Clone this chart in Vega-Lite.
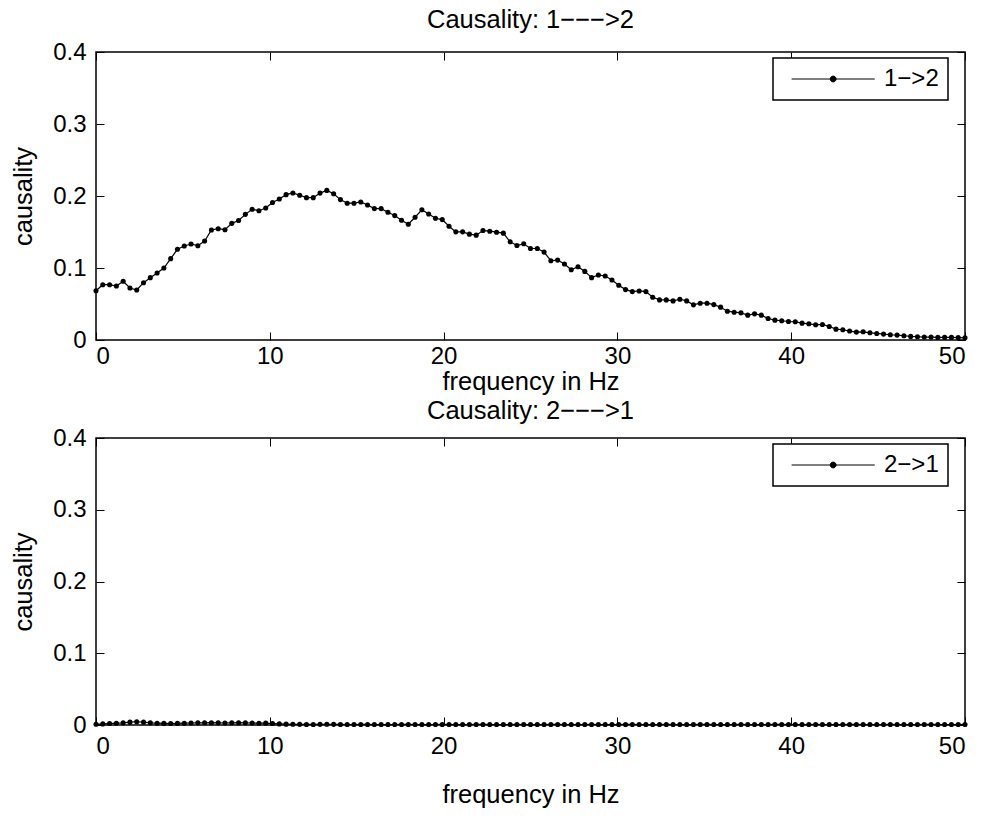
{
  "$schema": "https://vega.github.io/schema/vega-lite/v6.json",
  "background": "white",
  "padding": {"left": 10, "top": 6, "right": 10, "bottom": 5},
  "datasets": {
    "a": [
      {"f":0,"c":0.0685},{"f":0.3906,"c":0.0768},{"f":0.7813,"c":0.0768},{"f":1.1719,"c":0.075},{"f":1.5625,"c":0.0815},{"f":1.9531,"c":0.0722},{"f":2.3438,"c":0.0694},{"f":2.7344,"c":0.0796},{"f":3.125,"c":0.0866},{"f":3.5156,"c":0.093},{"f":3.9063,"c":0.1},{"f":4.2969,"c":0.113},{"f":4.6875,"c":0.126},{"f":5.0781,"c":0.1306},{"f":5.4688,"c":0.1333},{"f":5.8594,"c":0.131},{"f":6.25,"c":0.1375},{"f":6.6406,"c":0.1528},{"f":7.0313,"c":0.1546},{"f":7.4219,"c":0.1532},{"f":7.8125,"c":0.162},{"f":8.2031,"c":0.166},{"f":8.5938,"c":0.1745},{"f":8.9844,"c":0.1815},{"f":9.375,"c":0.1796},{"f":9.7656,"c":0.1833},{"f":10.1563,"c":0.191},{"f":10.5469,"c":0.1958},{"f":10.9375,"c":0.2019},{"f":11.3281,"c":0.2042},{"f":11.7188,"c":0.201},{"f":12.1094,"c":0.1977},{"f":12.5,"c":0.1977},{"f":12.8906,"c":0.204},{"f":13.2813,"c":0.2078},{"f":13.6719,"c":0.2032},{"f":14.0625,"c":0.195},{"f":14.4531,"c":0.19},{"f":14.8438,"c":0.19},{"f":15.2344,"c":0.1917},{"f":15.625,"c":0.1876},{"f":16.0156,"c":0.1825},{"f":16.4063,"c":0.1825},{"f":16.7969,"c":0.1775},{"f":17.1875,"c":0.1728},{"f":17.5781,"c":0.1664},{"f":17.9688,"c":0.1608},{"f":18.3594,"c":0.1705},{"f":18.75,"c":0.181},{"f":19.1406,"c":0.1751},{"f":19.5313,"c":0.1691},{"f":19.9219,"c":0.1672},{"f":20.3125,"c":0.158},{"f":20.7031,"c":0.1502},{"f":21.0938,"c":0.1502},{"f":21.4844,"c":0.147},{"f":21.875,"c":0.1456},{"f":22.2656,"c":0.152},{"f":22.6563,"c":0.1511},{"f":23.0469,"c":0.1497},{"f":23.4375,"c":0.1484},{"f":23.8281,"c":0.1364},{"f":24.2188,"c":0.1313},{"f":24.6094,"c":0.1336},{"f":25,"c":0.1271},{"f":25.3906,"c":0.1271},{"f":25.7813,"c":0.1221},{"f":26.1719,"c":0.1101},{"f":26.5625,"c":0.111},{"f":26.9531,"c":0.1055},{"f":27.3438,"c":0.0976},{"f":27.7344,"c":0.1018},{"f":28.125,"c":0.0953},{"f":28.5156,"c":0.0866},{"f":28.9063,"c":0.0903},{"f":29.2969,"c":0.0889},{"f":29.6875,"c":0.0834},{"f":30.0781,"c":0.076},{"f":30.4688,"c":0.07},{"f":30.8594,"c":0.0672},{"f":31.25,"c":0.0681},{"f":31.6406,"c":0.0672},{"f":32.0313,"c":0.0594},{"f":32.4219,"c":0.0557},{"f":32.8125,"c":0.0557},{"f":33.2031,"c":0.0543},{"f":33.5938,"c":0.0566},{"f":33.9844,"c":0.0543},{"f":34.375,"c":0.0488},{"f":34.7656,"c":0.0511},{"f":35.1563,"c":0.0511},{"f":35.5469,"c":0.0492},{"f":35.9375,"c":0.0456},{"f":36.3281,"c":0.04},{"f":36.7188,"c":0.0386},{"f":37.1094,"c":0.0377},{"f":37.5,"c":0.0345},{"f":37.8906,"c":0.0363},{"f":38.2813,"c":0.0345},{"f":38.6719,"c":0.0299},{"f":39.0625,"c":0.0276},{"f":39.4531,"c":0.0267},{"f":39.8438,"c":0.0257},{"f":40.2344,"c":0.0253},{"f":40.625,"c":0.0234},{"f":41.0156,"c":0.0225},{"f":41.4063,"c":0.0211},{"f":41.7969,"c":0.0216},{"f":42.1875,"c":0.0188},{"f":42.5781,"c":0.0151},{"f":42.9688,"c":0.0142},{"f":43.3594,"c":0.0124},{"f":43.75,"c":0.011},{"f":44.1406,"c":0.0114},{"f":44.5313,"c":0.01},{"f":44.9219,"c":0.0091},{"f":45.3125,"c":0.0082},{"f":45.7031,"c":0.0073},{"f":46.0938,"c":0.0068},{"f":46.4844,"c":0.0059},{"f":46.875,"c":0.005},{"f":47.2656,"c":0.0045},{"f":47.6563,"c":0.0041},{"f":48.0469,"c":0.0041},{"f":48.4375,"c":0.0036},{"f":48.8281,"c":0.0036},{"f":49.2188,"c":0.0036},{"f":49.6094,"c":0.0034},{"f":50,"c":0.003}
    ],
    "b": [
      {"f":0,"c":0.001},{"f":0.3906,"c":0.0015},{"f":0.7813,"c":0.002},{"f":1.1719,"c":0.0025},{"f":1.5625,"c":0.003},{"f":1.9531,"c":0.004},{"f":2.3438,"c":0.0045},{"f":2.7344,"c":0.004},{"f":3.125,"c":0.003},{"f":3.5156,"c":0.0025},{"f":3.9063,"c":0.0022},{"f":4.2969,"c":0.002},{"f":4.6875,"c":0.0022},{"f":5.0781,"c":0.0025},{"f":5.4688,"c":0.0028},{"f":5.8594,"c":0.003},{"f":6.25,"c":0.003},{"f":6.6406,"c":0.0032},{"f":7.0313,"c":0.003},{"f":7.4219,"c":0.0028},{"f":7.8125,"c":0.003},{"f":8.2031,"c":0.0032},{"f":8.5938,"c":0.003},{"f":8.9844,"c":0.0028},{"f":9.375,"c":0.0025},{"f":9.7656,"c":0.0026},{"f":10.1563,"c":0.002},{"f":10.5469,"c":0.0015},{"f":10.9375,"c":0.0012},{"f":11.3281,"c":0.001},{"f":11.7188,"c":0.0009},{"f":12.1094,"c":0.0008},{"f":12.5,"c":0.0008},{"f":12.8906,"c":0.0009},{"f":13.2813,"c":0.001},{"f":13.6719,"c":0.0009},{"f":14.0625,"c":0.0008},{"f":14.4531,"c":0.0007},{"f":14.8438,"c":0.0007},{"f":15.2344,"c":0.0008},{"f":15.625,"c":0.0008},{"f":16.0156,"c":0.0007},{"f":16.4063,"c":0.0006},{"f":16.7969,"c":0.0006},{"f":17.1875,"c":0.0007},{"f":17.5781,"c":0.0008},{"f":17.9688,"c":0.0008},{"f":18.3594,"c":0.0007},{"f":18.75,"c":0.0006},{"f":19.1406,"c":0.0006},{"f":19.5313,"c":0.0007},{"f":19.9219,"c":0.0008},{"f":20.3125,"c":0.0007},{"f":20.7031,"c":0.0006},{"f":21.0938,"c":0.0006},{"f":21.4844,"c":0.0007},{"f":21.875,"c":0.0008},{"f":22.2656,"c":0.0008},{"f":22.6563,"c":0.0007},{"f":23.0469,"c":0.0006},{"f":23.4375,"c":0.0006},{"f":23.8281,"c":0.0007},{"f":24.2188,"c":0.0008},{"f":24.6094,"c":0.0007},{"f":25,"c":0.0006},{"f":25.3906,"c":0.0006},{"f":25.7813,"c":0.0007},{"f":26.1719,"c":0.0008},{"f":26.5625,"c":0.0008},{"f":26.9531,"c":0.0007},{"f":27.3438,"c":0.0006},{"f":27.7344,"c":0.0006},{"f":28.125,"c":0.0007},{"f":28.5156,"c":0.0008},{"f":28.9063,"c":0.0007},{"f":29.2969,"c":0.0006},{"f":29.6875,"c":0.0006},{"f":30.0781,"c":0.0007},{"f":30.4688,"c":0.0008},{"f":30.8594,"c":0.0008},{"f":31.25,"c":0.0007},{"f":31.6406,"c":0.0006},{"f":32.0313,"c":0.0006},{"f":32.4219,"c":0.0007},{"f":32.8125,"c":0.0008},{"f":33.2031,"c":0.0007},{"f":33.5938,"c":0.0006},{"f":33.9844,"c":0.0006},{"f":34.375,"c":0.0007},{"f":34.7656,"c":0.0008},{"f":35.1563,"c":0.0008},{"f":35.5469,"c":0.0007},{"f":35.9375,"c":0.0006},{"f":36.3281,"c":0.0006},{"f":36.7188,"c":0.0007},{"f":37.1094,"c":0.0008},{"f":37.5,"c":0.0007},{"f":37.8906,"c":0.0006},{"f":38.2813,"c":0.0006},{"f":38.6719,"c":0.0007},{"f":39.0625,"c":0.0008},{"f":39.4531,"c":0.0008},{"f":39.8438,"c":0.0007},{"f":40.2344,"c":0.0006},{"f":40.625,"c":0.0006},{"f":41.0156,"c":0.0007},{"f":41.4063,"c":0.0008},{"f":41.7969,"c":0.0007},{"f":42.1875,"c":0.0006},{"f":42.5781,"c":0.0006},{"f":42.9688,"c":0.0007},{"f":43.3594,"c":0.0008},{"f":43.75,"c":0.0008},{"f":44.1406,"c":0.0007},{"f":44.5313,"c":0.0006},{"f":44.9219,"c":0.0006},{"f":45.3125,"c":0.0007},{"f":45.7031,"c":0.0008},{"f":46.0938,"c":0.0007},{"f":46.4844,"c":0.0006},{"f":46.875,"c":0.0006},{"f":47.2656,"c":0.0007},{"f":47.6563,"c":0.0008},{"f":48.0469,"c":0.0008},{"f":48.4375,"c":0.0007},{"f":48.8281,"c":0.0006},{"f":49.2188,"c":0.0006},{"f":49.6094,"c":0.0007},{"f":50,"c":0.0008}
    ]
  },
  "vconcat": [
    {
      "title": {"text": "Causality: 1−−−>2", "offset": 7},
      "width": 869,
      "height": 288,
      "data": {"name": "a"},
      "layer": [
        {
          "mark": {"type": "line", "color": "black", "strokeWidth": 1.2},
          "encoding": {
            "x": {"field": "f", "type": "quantitative", "scale": {"domain": [0, 50], "nice": false}, "title": "frequency in Hz", "axis": {"orient": "bottom", "values": [0, 10, 20, 30, 40, 50], "labelPadding": 12, "titlePadding": 1}},
            "y": {"field": "c", "type": "quantitative", "scale": {"domain": [0, 0.4], "nice": false}, "title": "causality", "axis": {"orient": "left", "values": [0, 0.1, 0.2, 0.3, 0.4], "labelExpr": "datum.value == 0 ? '0' : format(datum.value, '.1f')", "labelPadding": 18, "titlePadding": 16}},
            "color": {"datum": "1−>2", "type": "nominal", "scale": {"range": ["black"]}, "legend": {"orient": "none", "legendX": 677, "legendY": 6}}
          }
        },
        {
          "mark": {"type": "point", "filled": true, "color": "black", "size": 26, "opacity": 1},
          "encoding": {
            "x": {"field": "f", "type": "quantitative", "axis": {"orient": "top", "labels": false, "title": null, "values": [0, 10, 20, 30, 40, 50]}},
            "y": {"field": "c", "type": "quantitative", "axis": {"orient": "right", "labels": false, "title": null, "values": [0, 0.1, 0.2, 0.3, 0.4]}}
          }
        }
      ],
      "resolve": {"axis": {"x": "independent", "y": "independent"}}
    },
    {
      "title": {"text": "Causality: 2−−−>1", "offset": 2},
      "width": 869,
      "height": 287,
      "data": {"name": "b"},
      "layer": [
        {
          "mark": {"type": "line", "color": "black", "strokeWidth": 1.2},
          "encoding": {
            "x": {"field": "f", "type": "quantitative", "scale": {"domain": [0, 50], "nice": false}, "title": "frequency in Hz", "axis": {"orient": "bottom", "values": [0, 10, 20, 30, 40, 50], "labelPadding": 17, "titlePadding": 24}},
            "y": {"field": "c", "type": "quantitative", "scale": {"domain": [0, 0.4], "nice": false}, "title": "causality", "axis": {"orient": "left", "values": [0, 0.1, 0.2, 0.3, 0.4], "labelExpr": "datum.value == 0 ? '0' : format(datum.value, '.1f')", "labelPadding": 18, "titlePadding": 16}},
            "color": {"datum": "2−>1", "type": "nominal", "scale": {"range": ["black"]}, "legend": {"orient": "none", "legendX": 677, "legendY": 6}}
          }
        },
        {
          "mark": {"type": "point", "filled": true, "color": "black", "size": 26, "opacity": 1},
          "encoding": {
            "x": {"field": "f", "type": "quantitative", "axis": {"orient": "top", "labels": false, "title": null, "values": [0, 10, 20, 30, 40, 50]}},
            "y": {"field": "c", "type": "quantitative", "axis": {"orient": "right", "labels": false, "title": null, "values": [0, 0.1, 0.2, 0.3, 0.4]}}
          }
        }
      ],
      "resolve": {"axis": {"x": "independent", "y": "independent"}}
    }
  ],
  "spacing": 98,
  "bounds": "flush",
  "resolve": {"scale": {"color": "independent"}, "legend": {"color": "independent"}},
  "config": {
    "font": "Liberation Sans",
    "view": {"stroke": "black", "strokeWidth": 1.5},
    "title": {"fontSize": 25.5, "fontWeight": "normal", "color": "black", "font": "Liberation Sans"},
    "axis": {
      "grid": false,
      "domain": false,
      "ticks": true,
      "tickColor": "black",
      "tickSize": -8,
      "tickWidth": 1,
      "labelFont": "Liberation Sans",
      "labelFontSize": 24,
      "labelColor": "black",
      "titleFont": "Liberation Sans",
      "titleFontSize": 25.5,
      "titleFontWeight": "normal",
      "titleColor": "black"
    },
    "legend": {
      "strokeColor": "black",
      "strokeWidth": 1.5,
      "fillColor": "white",
      "padding": 9,
      "title": null,
      "labelFont": "Liberation Sans",
      "labelFontSize": 24,
      "labelColor": "black",
      "symbolType": "M-1,0H7M2.72,0A0.28,0.28 0 1,0 3.28,0A0.28,0.28 0 1,0 2.72,0Z",
      "symbolSize": 432,
      "symbolStrokeColor": "black",
      "symbolFillColor": "black",
      "symbolStrokeWidth": 1,
      "symbolOffset": 8,
      "labelOffset": 70
    }
  }
}
